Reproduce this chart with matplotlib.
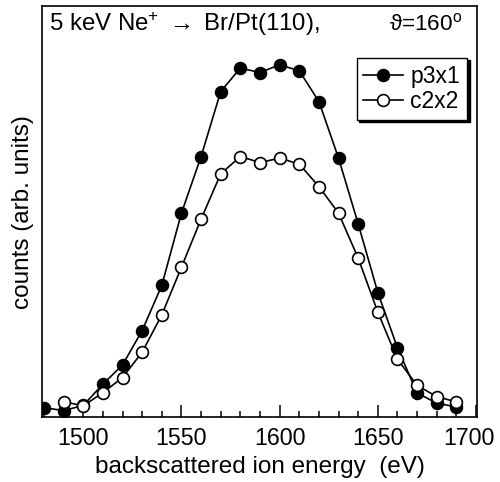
import numpy as np
import matplotlib
matplotlib.use("Agg")
import matplotlib.pyplot as plt
import matplotlib.transforms as mtransforms
from matplotlib.ticker import MultipleLocator

plt.rcParams['font.family'] = ['Liberation Sans', 'DejaVu Sans']
plt.rcParams['mathtext.fontset'] = 'custom'
plt.rcParams['mathtext.rm'] = 'Liberation Sans'
plt.rcParams['mathtext.it'] = 'Liberation Sans:italic'

# backscattered energies (eV)
energy_p3x1 = [1480, 1490, 1500, 1510, 1520, 1530, 1540, 1550, 1560, 1570, 1580,
               1590, 1600, 1610, 1620, 1630, 1640, 1650, 1660, 1670, 1680, 1690]
counts_p3x1 = [9.8, 6.8, 12, 33.2, 52.5, 86.8, 132, 204.2, 260.8, 325.8, 349.2,
               344.8, 352.5, 346.5, 315.8, 259.2, 193.5, 124.8, 69.5, 24.5, 14.2, 10.5]

energy_c2x2 = [1490, 1500, 1510, 1520, 1530, 1540, 1550, 1560, 1570, 1580,
               1590, 1600, 1610, 1620, 1630, 1640, 1650, 1660, 1670, 1680, 1690]
counts_c2x2 = [15.8, 11.5, 24.8, 39.8, 65.2, 102.5, 150.2, 198.2, 243.5, 260.8,
               254.8, 259.2, 253.2, 230.8, 204.2, 159.2, 105.2, 58.2, 32, 20.8, 15.5]

xticks = [1500, 1550, 1600, 1650, 1700]


def main():
    fig = plt.figure(figsize=(5.0, 4.82), dpi=100)
    ax = fig.add_axes([0.084, 0.134, 0.87, 0.854])

    ax.plot(energy_p3x1, counts_p3x1, '-o', color='k', lw=1.2, ms=8.5,
            mfc='k', mec='k', mew=1.2, label='p3x1', zorder=2)
    ax.plot(energy_c2x2, counts_c2x2, '-o', color='k', lw=1.2, ms=8.5,
            mfc='white', mec='k', mew=1.2, label='c2x2', zorder=3)

    ax.set_xlim(1479, 1700.5)
    ax.set_ylim(0, 411.5)
    ax.set_xticks(xticks)
    ax.xaxis.set_minor_locator(MultipleLocator(10))
    ax.set_yticks([])
    ax.tick_params(axis='x', which='major', direction='in', length=8.5, width=1.1,
                   labelsize=16.7, pad=7, top=False)
    ax.tick_params(axis='x', which='minor', direction='in', length=4.5, width=1.1, top=False)
    for s in ax.spines.values():
        s.set_linewidth(1.2)

    # last tick label sits a bit left of its tick, as in the original
    last = ax.get_xticklabels()[-1]
    last.set_transform(last.get_transform() +
                       mtransforms.ScaledTranslation(-7 / 100, 0, fig.dpi_scale_trans))

    ax.set_xlabel('backscattered ion energy  (eV)', fontsize=17.5, labelpad=4)
    ax.set_ylabel('counts (arb. units)', fontsize=17.5, labelpad=6)

    ax.text(0.016, 0.955, r'5 keV Ne$^{+}$ $\rightarrow$ Br/Pt(110),',
            transform=ax.transAxes, fontsize=17.3, ha='left', va='center')
    ax.text(0.966, 0.955, r'ϑ=160$^{\mathrm{o}}$', transform=ax.transAxes,
            fontsize=16.2, ha='right', va='center')

    ax.legend(loc='upper right', bbox_to_anchor=(0.977, 0.874), fontsize=16.5,
              frameon=True, fancybox=False, shadow={'color': 'k', 'alpha': 1.0},
              edgecolor='k', framealpha=1, handlelength=1.75, handletextpad=0.3,
              borderpad=0.3, labelspacing=0.1, borderaxespad=0)

    fig.savefig('out.png', dpi=100)


if __name__ == "__main__":
    main()
